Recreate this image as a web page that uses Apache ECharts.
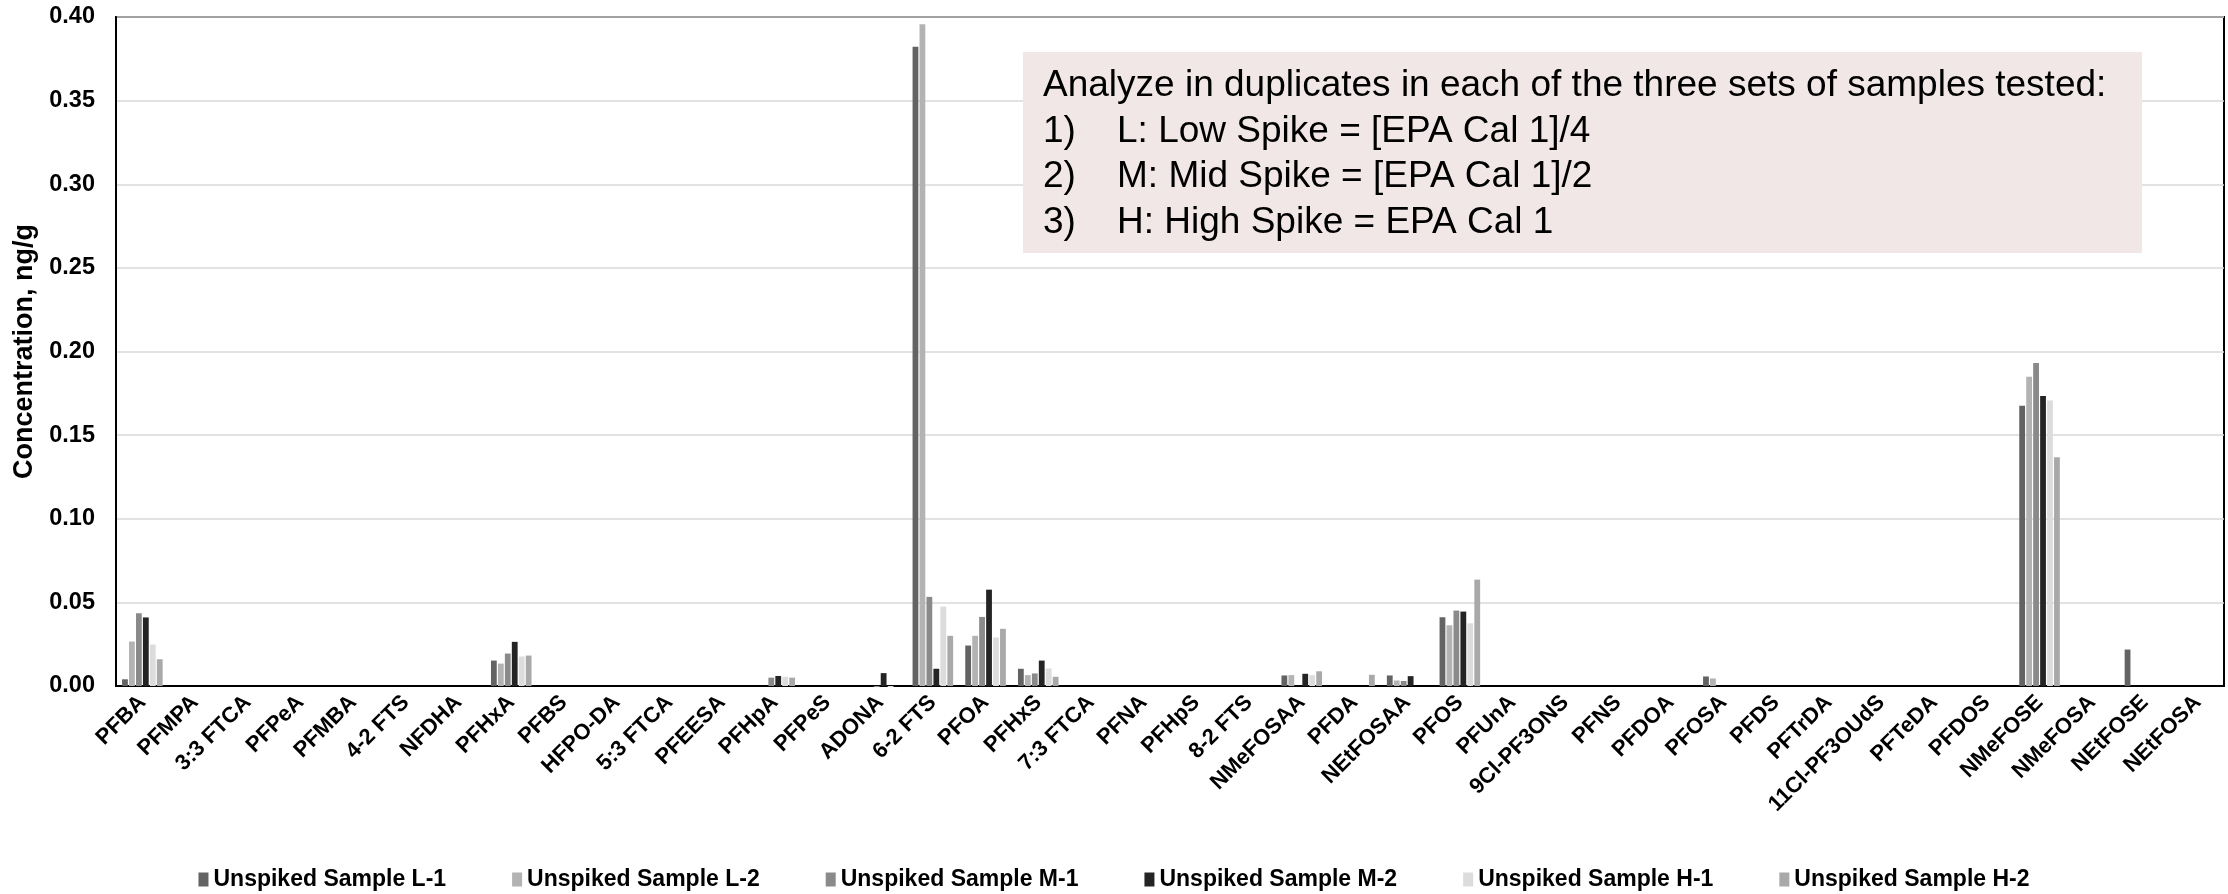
<!DOCTYPE html>
<html>
<head>
<meta charset="utf-8">
<script src="https://cdn.jsdelivr.net/npm/echarts@6/dist/echarts.min.js"></script>
<style>
  html, body { margin: 0; padding: 0; background: #fff; }
  #chart { width: 2228px; height: 894px; }
</style>
</head>
<body>
<div id="chart"></div>
<script>
// PFAS analytes (x categories)
const analytes = [
  'PFBA', 'PFMPA', '3:3 FTCA', 'PFPeA', 'PFMBA', '4-2 FTS', 'NFDHA', 'PFHxA',
  'PFBS', 'HFPO-DA', '5:3 FTCA', 'PFEESA', 'PFHpA', 'PFPeS', 'ADONA', '6-2 FTS',
  'PFOA', 'PFHxS', '7:3 FTCA', 'PFNA', 'PFHpS', '8-2 FTS', 'NMeFOSAA', 'PFDA',
  'NEtFOSAA', 'PFOS', 'PFUnA', '9Cl-PF3ONS', 'PFNS', 'PFDOA', 'PFOSA', 'PFDS',
  'PFTrDA', '11Cl-PF3OUdS', 'PFTeDA', 'PFDOS', 'NMeFOSE', 'NMeFOSA', 'NEtFOSE', 'NEtFOSA'
];

// Concentrations, ng/g, one value per analyte
const sampleL1 = [0.004, 0, 0, 0, 0, 0, 0, 0.0152, 0, 0, 0, 0, 0, 0, 0, 0.3822,
  0.0242, 0.0103, 0, 0, 0, 0, 0.0063, 0, 0.0063, 0.0411, 0, 0, 0, 0, 0.0057, 0,
  0, 0, 0, 0, 0.1676, 0, 0.0218, 0];
const sampleL2 = [0.0266, 0, 0, 0, 0, 0, 0, 0.0134, 0, 0, 0, 0, 0, 0, 0, 0.3956,
  0.030, 0.0065, 0, 0, 0, 0, 0.0065, 0, 0.0033, 0.0363, 0, 0, 0, 0, 0.0045, 0,
  0, 0, 0, 0, 0.1849, 0, 0, 0];
const sampleM1 = [0.0435, 0, 0, 0, 0, 0, 0, 0.0194, 0, 0, 0, 0, 0.005, 0, -0.0006, 0.0533,
  0.0413, 0.0075, 0, 0, 0, 0, 0, 0, 0.003, 0.0451, 0, 0, 0, 0, 0, 0,
  0, 0, 0, 0, 0.1931, 0, 0, 0];
const sampleM2 = [0.041, 0, 0, 0, 0, 0, 0, 0.0264, 0, 0, 0, 0, 0.006, 0, 0.0077, 0.0103,
  0.0576, 0.0152, 0, 0, 0, 0, 0.0073, 0, 0.0059, 0.0445, 0, 0, 0, 0, 0, 0,
  0, 0, 0, 0, 0.1734, 0, 0, 0];
const sampleH1 = [0.0248, 0, 0, 0, 0, 0, 0, 0.0176, 0, 0, 0, 0, 0.0055, 0, -0.0006, 0.0475,
  0.029, 0.0105, 0, 0, 0, 0, 0.0065, 0, 0, 0.0375, 0, 0, 0, 0, 0, 0,
  0, 0, 0, 0, 0.1707, 0, 0, 0];
const sampleH2 = [0.016, 0, 0, 0, 0, 0, 0, 0.0182, 0, 0, 0, 0, 0.005, 0, 0, 0.030,
  0.0342, 0.0055, 0, 0, 0, 0, 0.0088, 0.0067, 0, 0.0636, 0, 0, 0, 0, 0, 0,
  0, 0, 0, 0, 0.1367, 0, 0, 0];

const seriesNames = [
  'Unspiked Sample L-1', 'Unspiked Sample L-2', 'Unspiked Sample M-1',
  'Unspiked Sample M-2', 'Unspiked Sample H-1', 'Unspiked Sample H-2'
];
const seriesData = [sampleL1, sampleL2, sampleM1, sampleM2, sampleH1, sampleH2];
const seriesColors = ['#636363', '#b3b3b3', '#8a8a8a', '#242424', '#dcdcdc', '#a9a9a9'];

// Note box text
const noteTitle = 'Analyze in duplicates in each of the three sets of samples tested:';
const noteItems = [
  ['1)', 'L: Low Spike = [EPA Cal 1]/4'],
  ['2)', 'M: Mid Spike = [EPA Cal 1]/2'],
  ['3)', 'H: High Spike = EPA Cal 1']
];

const FONT = '"Liberation Sans", Arial, sans-serif';

const chart = echarts.init(document.getElementById('chart'), null, { renderer: 'canvas' });

const noteFont = { fontSize: 37, fontFamily: FONT, fill: '#000', verticalAlign: 'middle' };
const noteGraphics = [
  { type: 'rect', left: 1023, top: 52, shape: { width: 1119, height: 201 },
    style: { fill: '#f2e7e7' }, z: 10 },
  { type: 'text', x: 1043, y: 86, z: 11, style: Object.assign({ text: noteTitle }, noteFont) }
];
noteItems.forEach((item, i) => {
  const y = 131.5 + i * 45.5;
  noteGraphics.push({ type: 'text', x: 1043, y: y, z: 11, style: Object.assign({ text: item[0] }, noteFont) });
  noteGraphics.push({ type: 'text', x: 1117, y: y, z: 11, style: Object.assign({ text: item[1] }, noteFont) });
});

chart.setOption({
  animation: false,
  backgroundColor: '#fff',
  textStyle: { fontFamily: FONT },
  grid: {
    left: 116, right: 4, top: 17, bottom: 208,
    show: true, borderColor: '#000', borderWidth: 2, backgroundColor: 'transparent'
  },
  legend: {
    data: seriesNames,
    left: 'center',
    top: 863,
    icon: 'rect',
    itemWidth: 10,
    itemHeight: 14,
    itemGap: 66,
    textStyle: { fontSize: 23, fontWeight: 'bold', color: '#000', fontFamily: FONT }
  },
  xAxis: {
    type: 'category',
    data: analytes,
    axisLine: { show: true, lineStyle: { color: '#000', width: 2 } },
    axisTick: { show: false },
    axisLabel: {
      interval: 0, rotate: 45, margin: 13,
      fontSize: 22, fontWeight: 'bold', color: '#000', fontFamily: FONT
    }
  },
  yAxis: {
    type: 'value',
    min: 0, max: 0.4, interval: 0.05,
    name: 'Concentration, ng/g',
    nameLocation: 'middle',
    nameGap: 76,
    nameTextStyle: { fontSize: 27, fontWeight: 'bold', color: '#000', fontFamily: FONT },
    axisLine: { show: true, lineStyle: { color: '#000', width: 2 } },
    axisTick: { show: false },
    axisLabel: {
      margin: 21, fontSize: 23.5, fontWeight: 'bold', color: '#000', fontFamily: FONT,
      formatter: v => v.toFixed(2)
    },
    splitLine: { show: true, lineStyle: { color: '#d9d9d9', width: 1.5 } }
  },
  series: seriesNames.map((name, i) => ({
    name: name,
    type: 'bar',
    data: seriesData[i],
    barGap: '20%',
    barCategoryGap: '23%',
    clip: false,
    itemStyle: { color: seriesColors[i] }
  })),
  graphic: noteGraphics
});
</script>
</body>
</html>
